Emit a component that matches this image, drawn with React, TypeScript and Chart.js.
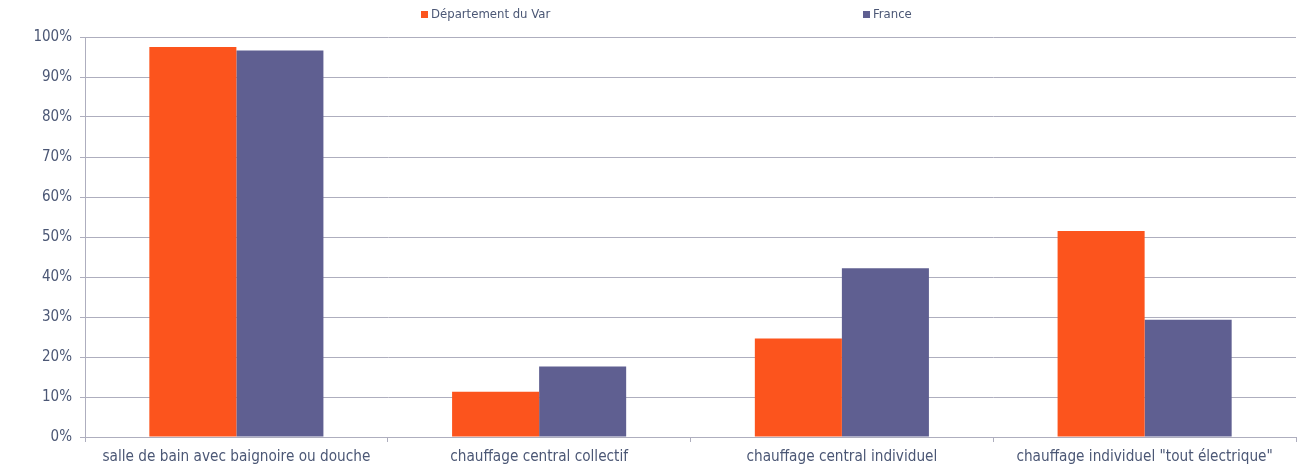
import React, { useEffect, useRef } from "react";
import { Chart, registerables } from "chart.js";

Chart.register(...registerables);

const categories = [
  "salle de bain avec baignoire ou douche",
  "chauffage central collectif",
  "chauffage central individuel",
  'chauffage individuel "tout électrique"',
];
const seriesNames = ["Département du Var", "France"];
const varValues = [97.5, 11.3, 24.6, 51.5];
const franceValues = [96.6, 17.6, 42.2, 29.3];
const colors = ["#FC541D", "#5F5F91"];

const FONT = "'DejaVu Sans Condensed', 'DejaVu Sans', Verdana, sans-serif";
const TEXT = "#4B5775";
const GRID = "#AEAEBE";

export default function App() {
  const ref = useRef<HTMLCanvasElement | null>(null);
  useEffect(() => {
    document.body.style.margin = "0";
    const ctx = ref.current!;
    const chart = new Chart(ctx, {
      type: "bar",
      data: {
        labels: categories,
        datasets: [
          { label: seriesNames[0], data: varValues, backgroundColor: colors[0], borderWidth: 0 },
          { label: seriesNames[1], data: franceValues, backgroundColor: colors[1], borderWidth: 0 },
        ],
      },
      options: {
        animation: false,
        responsive: false,
        maintainAspectRatio: false,
        layout: { padding: { left: 0, right: 14, top: 37, bottom: 0 } },
        plugins: { legend: { display: false }, tooltip: { enabled: false } },
        datasets: { bar: { categoryPercentage: 0.575, barPercentage: 1 } },
        scales: {
          x: {
            offset: true,
            grid: { offset: true, drawOnChartArea: false, color: GRID, tickLength: 5, lineWidth: 1 },
            border: { color: GRID, width: 1 },
            ticks: { color: TEXT, font: { family: FONT, size: 15.2 }, maxRotation: 0, autoSkip: false, padding: 6 },
            afterFit: (s: any) => { s.height = 33; },
          },
          y: {
            min: 0,
            max: 100,
            grid: { color: GRID, tickLength: 5, lineWidth: 1 },
            border: { color: GRID, width: 1 },
            ticks: {
              stepSize: 10,
              color: TEXT,
              font: { family: FONT, size: 15 },
              padding: 8,
              callback: (v: any) => v + "%",
            },
            afterFit: (s: any) => { s.width = 85; },
          },
        },
      },
    });
    return () => chart.destroy();
  }, []);
  const legendStyle: React.CSSProperties = {
    position: "absolute",
    top: 6,
    font: `13px ${FONT}`,
    color: TEXT,
    display: "flex",
    alignItems: "center",
    whiteSpace: "nowrap",
  };
  const box = (c: string): React.CSSProperties => ({
    width: 7,
    height: 7,
    background: c,
    marginRight: 3,
    marginTop: 2,
    display: "inline-block",
  });
  return (
    <div style={{ position: "relative", width: 1310, height: 470, background: "#fff" }}>
      <canvas ref={ref} width={1310} height={470} style={{ display: "block" }} />
      <div style={{ ...legendStyle, left: 421 }}>
        <span style={box(colors[0])} />
        {seriesNames[0]}
      </div>
      <div style={{ ...legendStyle, left: 863 }}>
        <span style={box(colors[1])} />
        {seriesNames[1]}
      </div>
    </div>
  );
}
